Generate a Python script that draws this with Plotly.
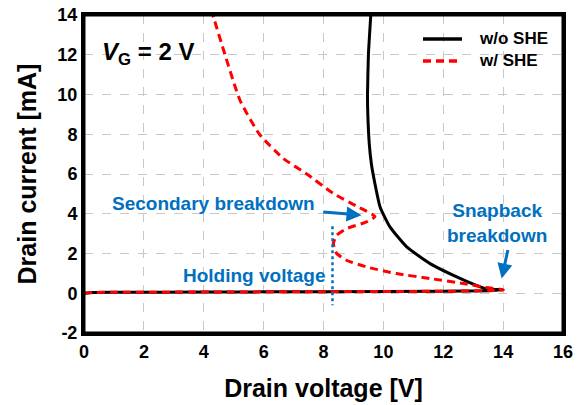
import plotly.graph_objects as go

# w/o SHE (black, solid)
v_wo = [0, 0.3, 1, 4, 8, 12, 13.5, 14.0, 13.45, 13.23, 12.45, 11.56, 10.78, 10.22, 9.89, 9.72, 9.6, 9.53, 9.48, 9.47, 9.5, 9.58]
i_wo = [0, 0.04, 0.05, 0.06, 0.08, 0.1, 0.13, 0.17, 0.22, 0.32, 0.82, 1.49, 2.33, 3.34, 4.34, 5.5, 6.5, 7.5, 9.0, 10.0, 12.0, 14.0]

# w/ SHE (red, dashed)
v_w = [0, 0.3, 1, 4, 8, 12, 13.5, 14.0, 13.45, 12.67, 11.56, 10.44, 9.44, 8.77, 8.44, 8.33, 8.44, 8.77, 9.44, 9.72,
       9.11, 8.33, 7.44, 6.66, 5.86, 5.21, 4.71, 4.34, 4.3]
i_w = [0, 0.04, 0.05, 0.06, 0.08, 0.1, 0.13, 0.17, 0.29, 0.49, 0.74, 0.99, 1.32, 1.66, 2.0, 2.5, 2.92, 3.25, 3.59, 3.86,
       4.38, 5.02, 6.0, 6.78, 8.0, 9.71, 12.0, 13.82, 14.0]

# holding voltage marker
v_hold = [8.3, 8.3]
i_hold = [3.37, -0.6]

x_ticks = [0, 2, 4, 6, 8, 10, 12, 14, 16]
y_ticks = [-2, 0, 2, 4, 6, 8, 10, 12, 14]

legend_names = ["w/o SHE", "w/ SHE"]

BLUE = "#0070C0"
FONT = "Arial, Liberation Sans, sans-serif"

L, R, T, B = 84, 20, 15, 72
W, H = 583, 405
PW, PH = W - L - R, H - T - B


def px_to_paper(px, py):
    return (px - L) / PW, (H - B - py) / PH


fig = go.Figure()
fig.add_trace(go.Scatter(x=v_wo, y=i_wo, mode="lines", name=legend_names[0], showlegend=False,
                         line=dict(color="black", width=3, shape="spline", smoothing=0.5)))
fig.add_trace(go.Scatter(x=v_w, y=i_w, mode="lines", name=legend_names[1], showlegend=False,
                         line=dict(color="#FF0000", width=3, dash="8px,5px", shape="spline", smoothing=0.5)))
fig.add_trace(go.Scatter(x=v_hold, y=i_hold, mode="lines", showlegend=False,
                         line=dict(color=BLUE, width=2.5, dash="dot")))

axis_common = dict(showline=True, linewidth=3, linecolor="black", mirror=True, automargin=False,
                   showgrid=True, gridcolor="#c8c8c8", gridwidth=1, griddash="dash",
                   ticklabeloverflow="allow",
                   zeroline=False, ticks="", tickfont=dict(family=FONT, size=18, color="black"))

fig.update_xaxes(range=[0, 16], tickvals=x_ticks, ticktext=[f"<b>{t}</b>" for t in x_ticks],
                 title=dict(text="<b>Drain voltage [V]</b>", font=dict(family=FONT, size=25, color="black"), standoff=19),
                 **axis_common)
fig.update_yaxes(range=[-2, 14], tickvals=y_ticks, ticktext=[f"<b>{t}</b>" for t in y_ticks],
                 title=dict(text="<b>Drain current [mA]</b>", font=dict(family=FONT, size=25, color="black"), standoff=14),
                 **axis_common)

# explicit plot frame
fig.add_shape(type="rect", xref="paper", yref="paper", x0=0, x1=1, y0=0, y1=1,
              line=dict(color="black", width=3), fillcolor="rgba(0,0,0,0)", layer="above")

ann_font = dict(family=FONT, size=19, color=BLUE)
fig.add_annotation(x=4.34, y=4.53, xref="x", yref="y", text="<b>Secondary breakdown</b>",
                   showarrow=False, font=ann_font)
fig.add_annotation(x=9.27, y=3.93, xref="x", yref="y", ax=7.94, ay=4.09, axref="x", ayref="y",
                   text="", showarrow=True, arrowhead=2, arrowsize=1, arrowwidth=3, arrowcolor=BLUE)
fig.add_annotation(x=5.71, y=0.91, xref="x", yref="y", text="<b>Holding voltage</b>",
                   showarrow=False, font=ann_font)
fig.add_annotation(x=13.8, y=3.55, xref="x", yref="y", text="<b>Snapback<br>breakdown</b>",
                   showarrow=False, font=ann_font)
fig.add_annotation(x=13.95, y=0.74, xref="x", yref="y", ax=14.17, ay=2.25, axref="x", ayref="y",
                   text="", showarrow=True, arrowhead=2, arrowsize=1, arrowwidth=3, arrowcolor=BLUE)
fig.add_annotation(x=2.14, y=12.08, xref="x", yref="y", text="<b><i>V</i><sub>G</sub> = 2 V</b>",
                   showarrow=False, font=dict(family=FONT, size=24, color="black"))

# manual legend
leg_styles = [dict(color="black", width=3.5), dict(color="#FF0000", width=3.5, dash="8px,5px")]
for k, (name, st) in enumerate(zip(legend_names, leg_styles)):
    py = 39 + 22 * k
    x0, y0 = px_to_paper(423, py)
    x1, _ = px_to_paper(462, py)
    xt, _ = px_to_paper(477, py)
    fig.add_shape(type="line", xref="paper", yref="paper", x0=x0, x1=x1, y0=y0, y1=y0, line=st)
    fig.add_annotation(x=xt, y=y0, xref="paper", yref="paper", text=f"<b>{name}</b>", showarrow=False,
                       xanchor="left", yanchor="middle", font=dict(family=FONT, size=17, color="black"))

fig.update_layout(width=W, height=H, margin=dict(l=L, r=R, t=T, b=B),
                  paper_bgcolor="white", plot_bgcolor="white",
                  font=dict(family=FONT, color="black"), showlegend=False)

fig.write_html("out.html", config={"displayModeBar": False},
               post_script="document.body.style.margin='0px';")
